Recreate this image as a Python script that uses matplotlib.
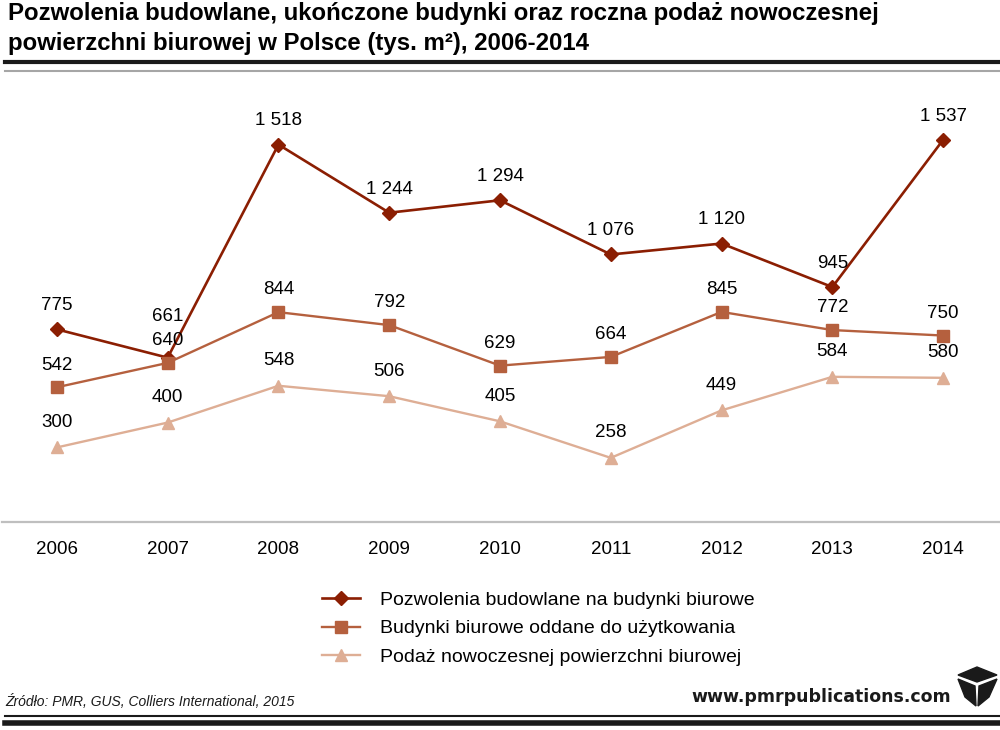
import matplotlib.pyplot as plt
from matplotlib.lines import Line2D
from matplotlib.patches import Polygon

years = ['2006', '2007', '2008', '2009', '2010', '2011', '2012', '2013', '2014']
pozwolenia = [775, 661, 1518, 1244, 1294, 1076, 1120, 945, 1537]
oddane = [542, 640, 844, 792, 629, 664, 845, 772, 750]
podaz = [300, 400, 548, 506, 405, 258, 449, 584, 580]
labels = ['Pozwolenia budowlane na budynki biurowe',
          'Budynki biurowe oddane do użytkowania',
          'Podaż nowoczesnej powierzchni biurowej']

c1 = '#8B1E02'
c2 = '#B5603E'
c3 = '#DEAE95'

plt.rcParams['font.family'] = ['Liberation Sans', 'DejaVu Sans']

fig = plt.figure(figsize=(10, 7.3), dpi=100)
ax = fig.add_axes([0.0015, 0.2849, 0.997, 0.6131])
x = list(range(len(years)))

ax.plot(x, pozwolenia, color=c1, lw=1.9, marker='D', ms=7, label=labels[0])
ax.plot(x, oddane, color=c2, lw=1.7, marker='s', ms=8, label=labels[1])
ax.plot(x, podaz, color=c3, lw=1.7, marker='^', ms=9, label=labels[2])

def fmt(v):
    return '{:,}'.format(v).replace(',', ' ')

for i, v in enumerate(pozwolenia):
    off = 30 if i == 1 else 17
    ax.annotate(fmt(v), (i, v), xytext=(0, off), textcoords='offset points',
                ha='center', va='center', fontsize=13.5)
for i, v in enumerate(oddane):
    ax.annotate(fmt(v), (i, v), xytext=(0, 16), textcoords='offset points',
                ha='center', va='center', fontsize=13.5)
for i, v in enumerate(podaz):
    ax.annotate(fmt(v), (i, v), xytext=(0, 18), textcoords='offset points',
                ha='center', va='center', fontsize=13.5)

ax.set_xlim(-0.5, 8.5)
ax.set_ylim(0, 1800)
ax.set_xticks(x)
ax.set_xticklabels(years, fontsize=13.5)
ax.tick_params(axis='x', length=0, pad=14)
ax.set_yticks([])
for s in ['top', 'right', 'left']:
    ax.spines[s].set_visible(False)
ax.spines['bottom'].set_color('#BFBFBF')
ax.spines['bottom'].set_linewidth(1.6)

ax.legend(loc='upper left', bbox_to_anchor=(0.321, -0.155), frameon=False,
          fontsize=14, handlelength=2.0, handletextpad=1.0, labelspacing=0.55,
          borderaxespad=0, borderpad=0)

# title
fig.text(0.008, 0.981, 'Pozwolenia budowlane, ukończone budynki oraz roczna podaż nowoczesnej',
         fontsize=17.3, fontweight='bold', va='center')
fig.text(0.008, 0.940, 'powierzchni biurowej w Polsce (tys. m²), 2006-2014',
         fontsize=17.3, fontweight='bold', va='center')
fig.add_artist(Line2D([0.005, 1], [1 - 62 / 730] * 2, color='#1A1A1A', lw=3))
fig.add_artist(Line2D([0.005, 1], [1 - 71 / 730] * 2, color='#A6A6A6', lw=1.5))

# footer
fig.text(0.005, 1 - 701 / 730, 'Źródło: PMR, GUS, Colliers International, 2015',
         fontsize=10, style='italic', va='center', color='#1A1A1A')
fig.text(0.951, 1 - 697 / 730, 'www.pmrpublications.com', fontsize=12.5,
         fontweight='bold', family=['DejaVu Sans'], va='center', ha='right',
         color='#1A1A1A')
fig.add_artist(Line2D([0.005, 1], [1 - 716 / 730] * 2, color='#1A1A1A', lw=1.5))
fig.add_artist(Line2D([0.005, 1], [1 - 723 / 730] * 2, color='#1A1A1A', lw=4))

# logo
def px(pts):
    return [(a / 1000, 1 - b / 730) for a, b in pts]

fig.add_artist(Polygon(px([(977, 667), (997, 675), (977, 682), (958, 675)]),
                       closed=True, color='#1A1A1A', transform=fig.transFigure))
fig.add_artist(Polygon(px([(958, 679), (975, 686), (976, 706), (965, 697)]),
                       closed=True, color='#1A1A1A', transform=fig.transFigure))
fig.add_artist(Polygon(px([(997, 679), (979, 686), (978, 706), (989, 697)]),
                       closed=True, color='#1A1A1A', transform=fig.transFigure))

plt.savefig('out.png', dpi=100)
